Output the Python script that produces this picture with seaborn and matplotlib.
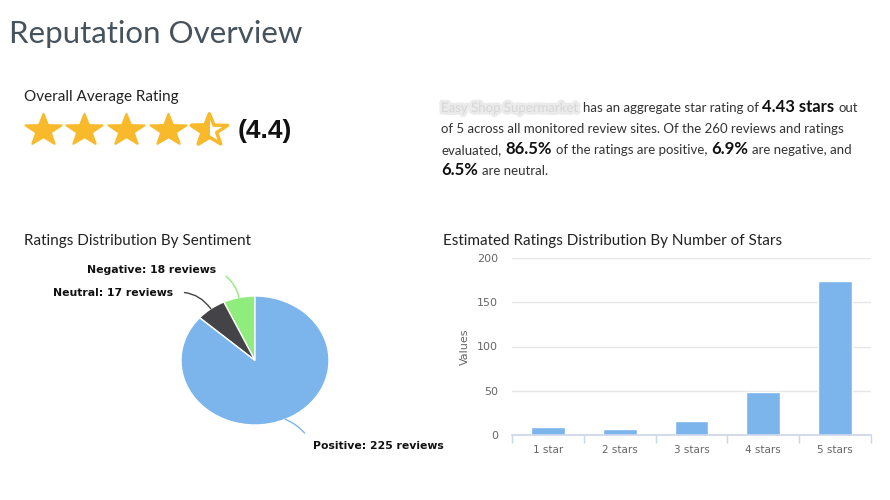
import numpy as np
import pandas as pd
import matplotlib
matplotlib.use("Agg")
import matplotlib.pyplot as plt
import matplotlib.patheffects as pe
from matplotlib.path import Path
from matplotlib.patches import Rectangle
import seaborn as sns

# ---- data ----
rating = 4.4
sentiments = ["Negative", "Neutral", "Positive"]
sentiment_counts = [18, 17, 225]
sentiment_colors = ["#90ed7d", "#434348", "#7cb5ec"]

star_labels = ["1 star", "2 stars", "3 stars", "4 stars", "5 stars"]
star_counts = [9, 7, 16, 49, 174]
y_ticks = [0, 50, 100, 150, 200]

summary_lines = [
    [("Easy Shop Supermarket", "blur"), ("has an aggregate star rating of", "n"),
     ("4.43 stars", "b"), ("out", "n")],
    [("of 5 across all monitored review sites. Of the 260 reviews and ratings", "n")],
    [("evaluated,", "n"), ("86.5%", "b"), ("of the ratings are positive,", "n"),
     ("6.9%", "b"), ("are negative, and", "n")],
    [("6.5%", "b"), ("are neutral.", "n")],
]

W, H = 890, 500
GOLD = "#f8b92b"
BAR_BLUE = "#7cb5ec"
AXIS_COLOR = "#ccd6eb"
LABEL_GRAY = "#666666"

sns.set_theme(style="white")
plt.rcParams["font.family"] = ["Lato", "DejaVu Sans"]


def fx(x):
    return x / W


def fy(y):
    return 1 - y / H


fig = plt.figure(figsize=(W / 100, H / 100), dpi=100)
renderer = fig.canvas.get_renderer()

# ---- headings ----
fig.text(fx(9), fy(34), "Reputation Overview", fontsize=22.5,
         color="#46525c", va="center")
fig.text(fx(24), fy(97), "Overall Average Rating", fontsize=11, color="#222222", va="center")
fig.text(fx(24), fy(241), "Ratings Distribution By Sentiment", fontsize=11,
         color="#222222", va="center")
fig.text(fx(443), fy(241), "Estimated Ratings Distribution By Number of Stars",
         fontsize=11, color="#222222", va="center")

# ---- star rating ----
ang = np.deg2rad(90 + np.arange(10) * 36)
rad = np.where(np.arange(10) % 2 == 0, 1.0, 0.40)
star_verts = np.column_stack([rad * np.cos(ang), rad * np.sin(ang) * 0.87])
star_marker = Path(np.vstack([star_verts, star_verts[:1]]), closed=True)

star_ax = fig.add_axes([fx(22), fy(149), fx(208), 38 / H])
star_ax.set_xlim(0.5, 5.5)
star_ax.set_ylim(-1, 1)
star_ax.axis("off")
half_rating = round(rating * 2) / 2
n_full = int(half_rating)
positions = np.arange(1, 6)
star_size = 26 ** 2
star_ax.scatter(positions[:n_full], np.zeros(n_full), s=star_size, marker=star_marker,
                color=GOLD, edgecolors=GOLD, linewidths=1.5)
if half_rating > n_full:
    pos = positions[n_full]
    star_ax.scatter([pos], [0], s=star_size, marker=star_marker, facecolors="white",
                    edgecolors=GOLD, linewidths=2.5)
    part = star_ax.scatter([pos], [0], s=star_size, marker=star_marker, color=GOLD,
                           edgecolors=GOLD, linewidths=2.5)
    star_w = 0.88
    frac = half_rating - n_full
    clip = Rectangle((pos - 1, -2), 1 - star_w / 2 + frac * star_w, 4,
                     transform=star_ax.transData)
    part.set_clip_path(clip)
fig.text(fx(238), fy(131), f"({rating:.1f})", fontsize=19, fontweight="bold",
         family="Liberation Sans", color="#111111", va="center")

# ---- summary paragraph ----
styles = {
    "n": dict(fontsize=9.5, color="#333333"),
    "b": dict(fontsize=12, fontweight="bold", color="#111111"),
    "blur": dict(fontsize=9.5, color="#d6d6d6",
                 path_effects=[pe.withStroke(linewidth=4, foreground="#ebebeb")]),
}
baselines = [112, 133, 154, 175]
space_px = 4
for pieces, base in zip(summary_lines, baselines):
    x = 441
    for txt, style in pieces:
        t = fig.text(fx(x), fy(base), txt, ha="left", va="baseline", **styles[style])
        bb = t.get_window_extent(renderer)
        x = bb.x1 + space_px

# ---- pie chart ----
pie_ax = fig.add_axes([fx(181), fy(425), fx(148), 129 / H])
wedges, _ = pie_ax.pie(sentiment_counts, colors=sentiment_colors, startangle=90,
                       counterclock=True,
                       wedgeprops=dict(linewidth=1, edgecolor="white"))
pie_ax.set_aspect("auto")
pie_ax.set_xlim(-1, 1)
pie_ax.set_ylim(-1, 1)
pie_ax.axis("off")

label_pos = [(-0.53, 1.40), (-1.11, 1.05), (0.78, -1.33)]
label_ha = ["right", "right", "left"]
label_rad = [-0.25, -0.3, 0.2]
for w, name, cnt, col, lp, ha, rd in zip(wedges, sentiments, sentiment_counts,
                                         sentiment_colors, label_pos, label_ha, label_rad):
    mid = np.deg2rad((w.theta1 + w.theta2) / 2)
    anchor = (np.cos(mid), np.sin(mid))
    pie_ax.annotate(f"{name}: {cnt} reviews", xy=anchor, xytext=lp, ha=ha, va="center",
                    fontsize=7.8, fontweight="bold", family="DejaVu Sans", color="#111111",
                    annotation_clip=False,
                    arrowprops=dict(arrowstyle="-", color=col, lw=1,
                                    relpos=(1, 0.5) if ha == "right" else (0, 0.5),
                                    shrinkA=6, shrinkB=0,
                                    connectionstyle=f"arc3,rad={rd}"))

# ---- bar chart ----
bar_ax = fig.add_axes([fx(512), fy(435), fx(359), 177 / H])
df = pd.DataFrame({"stars": star_labels, "count": star_counts})
sns.barplot(data=df, x="stars", y="count", color=BAR_BLUE, saturation=1, width=0.47,
            ax=bar_ax)
bar_ax.set_xlim(-0.5, 4.5)
bar_ax.set_ylim(0, 200)
bar_ax.set_yticks(y_ticks)
bar_ax.set_axisbelow(True)
bar_ax.yaxis.grid(True, color="#e6e6e6", lw=1)
for s in ["left", "top", "right"]:
    bar_ax.spines[s].set_visible(False)
bar_ax.spines["bottom"].set_color(AXIS_COLOR)
bar_ax.set_xticks(np.arange(-0.5, 5), minor=True)
bar_ax.tick_params(axis="x", which="minor", length=6, width=1, color=AXIS_COLOR,
                   direction="out", bottom=True)
bar_ax.tick_params(axis="x", which="major", length=0, pad=7, labelsize=7.5,
                   labelcolor=LABEL_GRAY)
bar_ax.tick_params(axis="y", length=0, pad=10, labelsize=8, labelcolor=LABEL_GRAY)
for lab in bar_ax.get_xticklabels() + bar_ax.get_yticklabels():
    lab.set_family("DejaVu Sans")
bar_ax.set_xlabel("")
bar_ax.set_ylabel("Values", color=LABEL_GRAY, fontsize=8, family="DejaVu Sans", labelpad=5)

fig.savefig("out.png", dpi=100)
